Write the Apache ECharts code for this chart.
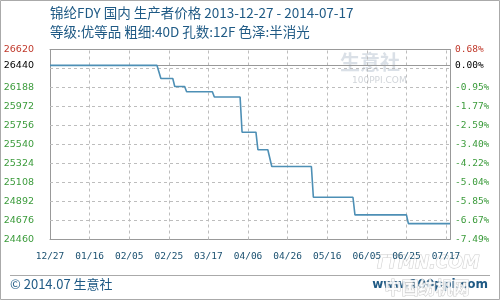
<!DOCTYPE html>
<html><head><meta charset="utf-8">
<script src="https://cdn.jsdelivr.net/npm/echarts@6/dist/echarts.min.js"></script>
<style>html,body{margin:0;padding:0;background:#fff}#c{width:500px;height:300px}</style>
</head><body><div id="c"></div>
<script>
// Data
var titleLine1 = '锦纶FDY 国内 生产者价格 2013-12-27 - 2014-07-17';
var titleLine2 = '等级:优等品 粗细:40D 孔数:12F 色泽:半消光';
var xTickLabels = ['12/27','01/16','02/05','02/25','03/17','04/06','04/26','05/16','06/05','06/25','07/17'];
// day offset from 2013-12-27 of each vertex of the price line
var dayOffset = [0, 54, 56, 62, 63, 68, 69, 82, 83, 96, 97, 104, 105, 110, 112, 132, 133, 153, 154, 180, 181, 202];
var price     = [26440, 26440, 26290, 26290, 26200, 26200, 26140, 26140, 26080, 26080, 25680, 25680, 25480, 25480, 25290, 25290, 24940, 24940, 24740, 24740, 24640, 24640];
var basePrice = 26440;
var yMin = 24460, yMax = 26620, yStep = 216;
var lastRegularTick = 26188;
var xMax = 202, xStep = 20;

var lineData = dayOffset.map(function(d, i){ return [d, price[i]]; });
function pct(v){ return ((v - basePrice) / basePrice * 100).toFixed(2) + '%'; }
var RED = '#c0392b', GREEN = '#3b9b3b', BLUE = '#1f5a85';

// dashed grid lines at the axis tick values
var gridMarks = [];
for (var d = xStep; d < xMax; d += xStep) gridMarks.push({xAxis: d});
for (var v = yMin + yStep; v < yMax; v += yStep) gridMarks.push({yAxis: v});
gridMarks = gridMarks.map(function(m){
  m.lineStyle = {color: '#bdbdbd', type: [3, 3], width: 1};
  m.label = {show: false};
  return m;
});
gridMarks.push({yAxis: basePrice, lineStyle: {color: '#999', type: 'solid', width: 1},
  label: {show: true, position: 'start', distance: 16, formatter: String(basePrice), color: '#000', fontFamily: 'DejaVu Sans', fontSize: 9.5}});
gridMarks.push({yAxis: basePrice, lineStyle: {color: '#999', type: 'solid', width: 1},
  label: {show: true, position: 'end', distance: 5, formatter: pct(basePrice), color: '#000', fontFamily: 'DejaVu Sans Mono', fontSize: 9.5}});

var chart = echarts.init(document.getElementById('c'), null, {renderer: 'canvas'});
chart.setOption({
  animation: false,
  grid: {left: 50, right: 50, top: 49.5, bottom: 60.5},
  xAxis: [{
    type: 'value', min: 0, max: xMax, interval: xStep, position: 'bottom',
    axisLine: {show: true, onZero: false, lineStyle: {color: '#999'}},
    axisTick: {show: false},
    splitLine: {show: false},
    axisLabel: {
      margin: 12, color: '#1a5070', fontFamily: 'DejaVu Sans Mono', fontSize: 9.5,
      showMaxLabel: true, showMinLabel: true, hideOverlap: false,
      formatter: function(v){ return (v % xStep === 0 && xTickLabels[v / xStep]) ? xTickLabels[v / xStep] : ''; }
    }
  }, {
    type: 'value', min: 0, max: xMax, position: 'top',
    axisLine: {show: true, onZero: false, lineStyle: {color: '#999'}},
    axisTick: {show: false}, axisLabel: {show: false}, splitLine: {show: false}
  }],
  yAxis: [{
    type: 'value', min: yMin, max: yMax, interval: yStep, position: 'left',
    axisLine: {show: true, onZero: false, lineStyle: {color: '#999'}}, axisTick: {show: false},
    splitLine: {show: false},
    axisLabel: {
      margin: 16, fontFamily: 'DejaVu Sans', fontSize: 9.5, showMaxLabel: true,
      color: function(v){ return Number(v) === yMax ? RED : GREEN; },
      formatter: function(v){ return (v === yMax || v <= lastRegularTick) ? String(v) : ''; }
    }
  }, {
    type: 'value', min: yMin, max: yMax, interval: yStep, position: 'right',
    axisLine: {show: true, onZero: false, lineStyle: {color: '#999'}}, axisTick: {show: false}, splitLine: {show: false},
    axisLabel: {
      margin: 5, fontFamily: 'DejaVu Sans Mono', fontSize: 9.5, showMaxLabel: true,
      color: function(v){ return Number(v) === yMax ? RED : GREEN; },
      formatter: function(v){ return (v === yMax || v <= lastRegularTick) ? pct(v) : ''; }
    }
  }],
  series: [{
    type: 'line', data: lineData, showSymbol: false, symbol: 'none', z: 6,
    lineStyle: {color: '#4d8fb5', width: 1.6},
    markLine: {
      silent: true, symbol: 'none', z: 1, animation: false,
      label: {show: false},
      data: gridMarks
    }
  }],
  graphic: [
    {type: 'rect', shape: {x: 0.5, y: 0.5, width: 499, height: 299}, style: {fill: null, stroke: '#aaa', lineWidth: 1}, silent: true, z: 100},
    {type: 'text', left: 50, top: 6, style: {text: titleLine1, fill: BLUE, font: '13.5px "Noto Sans CJK SC", sans-serif'}},
    {type: 'text', left: 50, top: 25, style: {text: titleLine2, fill: BLUE, font: '13.5px "Noto Sans CJK SC", sans-serif'}},
    {type: 'text', left: 340, top: 52, style: {text: '生意社', fill: 'rgba(150,165,185,0.35)', font: 'bold 20px "Noto Sans CJK SC", sans-serif'}, z: 0},
    {type: 'text', left: 352, top: 76, style: {text: '100PPI.COM', fill: 'rgba(150,160,170,0.45)', font: '9px "DejaVu Sans", sans-serif'}, z: 0},
    {type: 'line', shape: {x1: 10, y1: 275.5, x2: 490, y2: 275.5}, style: {stroke: '#aaa', lineWidth: 1}},
    {type: 'text', left: 10, top: 278, style: {text: '© 2014.07 生意社', fill: BLUE, font: '13px "Noto Sans CJK SC", sans-serif'}},
    {type: 'text', right: 12, top: 279, style: {text: 'www.100ppi.com', fill: BLUE, font: 'bold 12px "DejaVu Sans", sans-serif'}},
    {type: 'text', right: 20, top: 255, style: {text: 'TTMN.COM', fill: 'rgba(255,255,255,0.9)', stroke: 'rgba(170,170,170,0.6)', lineWidth: 1, font: 'italic bold 17px "DejaVu Sans", sans-serif'}},
    {type: 'text', right: 30, top: 279, style: {text: '中国纺机网', fill: 'rgba(255,255,255,0.85)', stroke: 'rgba(170,170,170,0.6)', lineWidth: 1, font: 'bold 17px "Noto Sans CJK SC", sans-serif'}}
  ]
});
</script></body></html>
